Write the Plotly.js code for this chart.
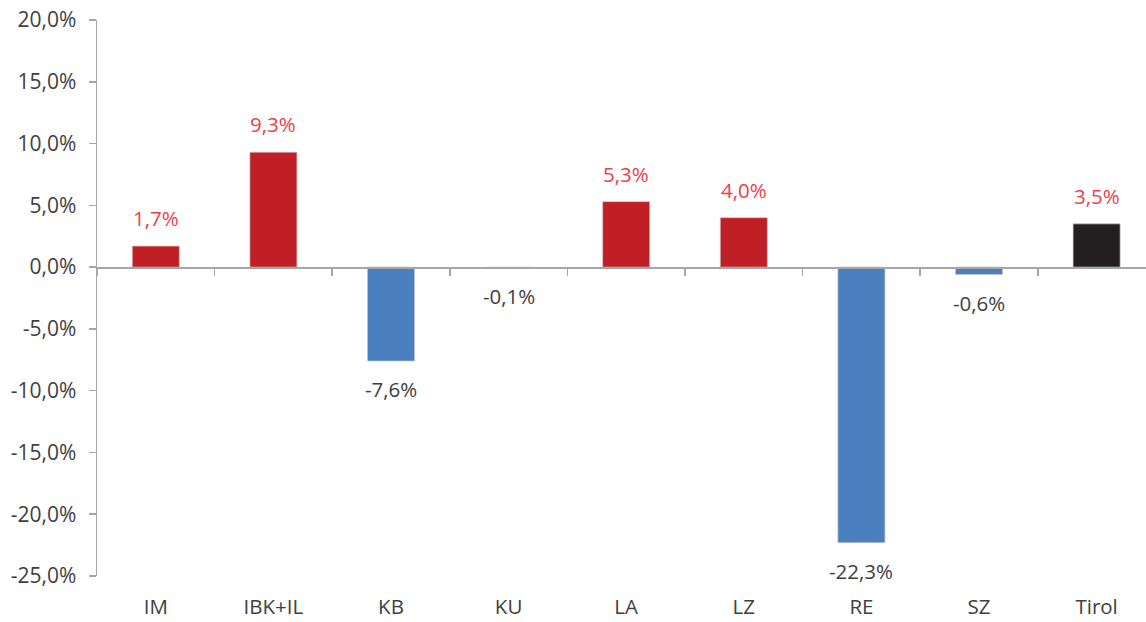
<!DOCTYPE html>
<html>
<head>
<meta charset="utf-8">
<script src="https://cdn.plot.ly/plotly-3.0.1.min.js"></script>
<style>html,body{margin:0;padding:0;background:#fff;}#chart{width:1146px;height:622px;}</style>
</head>
<body>
<div id="chart"></div>
<script>
const categories = ["IM", "IBK+IL", "KB", "KU", "LA", "LZ", "RE", "SZ", "Tirol"];
const values = [1.7, 9.3, -7.6, -0.1, 5.3, 4.0, -22.3, -0.6, 3.5];
const labels = ["1,7%", "9,3%", "-7,6%", "-0,1%", "5,3%", "4,0%", "-22,3%", "-0,6%", "3,5%"];
const barColors = ["#C01F26", "#C01F26", "#4A7FC0", "#C01F26", "#C01F26", "#C01F26", "#4A7FC0", "#4A7FC0", "#231F20"];
const yTicks = [20, 15, 10, 5, 0, -5, -10, -15, -20, -25];
const yTickText = ["20,0%", "15,0%", "10,0%", "5,0%", "0,0%", "-5,0%", "-10,0%", "-15,0%", "-20,0%", "-25,0%"];

const fontFam = "'Open Sans', Lato, sans-serif";

const trace = {
  type: "bar",
  x: categories,
  y: values,
  width: 0.4,
  marker: { color: barColors, line: { color: "rgba(200,200,200,0.7)", width: 1 } },
  hoverinfo: "skip"
};

const annotations = categories.map((c, i) => ({
  x: c, y: values[i], xref: "x", yref: "y",
  text: labels[i], showarrow: false,
  yanchor: "middle", yshift: values[i] >= 0 ? 28 : -28,
  font: { family: fontFam, size: 20.5, color: values[i] >= 0 ? "#EE4048" : "#404040" }
}));

const layout = {
  width: 1146, height: 622,
  margin: { l: 97, r: 0, t: 20, b: 46 },
  paper_bgcolor: "#fff", plot_bgcolor: "#fff",
  showlegend: false,
  xaxis: {
    type: "category", range: [-0.5, 8.42],
    showline: false, showgrid: false, zeroline: false,
    ticks: "", tickfont: { family: fontFam, size: 20.5, color: "#404040" },
    ticklabelstandoff: 16
  },
  xaxis2: {
    type: "category", overlaying: "x", anchor: "free", position: 25 / 45,
    matches: "x",
    showline: true, linecolor: "#A6A6A6", linewidth: 1.5,
    ticks: "outside", tickson: "boundaries", ticklen: 7, tickcolor: "#A6A6A6", tickwidth: 1.5,
    showticklabels: false, showgrid: false, zeroline: false
  },
  yaxis: {
    range: [-25, 20], tickvals: yTicks, ticktext: yTickText,
    showline: true, linecolor: "#A6A6A6", linewidth: 1.5,
    ticks: "outside", ticklen: 7, tickcolor: "#A6A6A6", tickwidth: 1.5,
    showgrid: false, zeroline: false, ticklabelstandoff: 8,
    tickfont: { family: fontFam, size: 21, color: "#404040" }
  },
  annotations: annotations
};

const trace2 = { type: "bar", x: categories, y: values.map(() => 0), xaxis: "x2", yaxis: "y", hoverinfo: "skip", marker: { color: "rgba(0,0,0,0)" }, showlegend: false };

Plotly.newPlot("chart", [trace2, trace], layout, { displayModeBar: false, staticPlot: true });
</script>
</body>
</html>
